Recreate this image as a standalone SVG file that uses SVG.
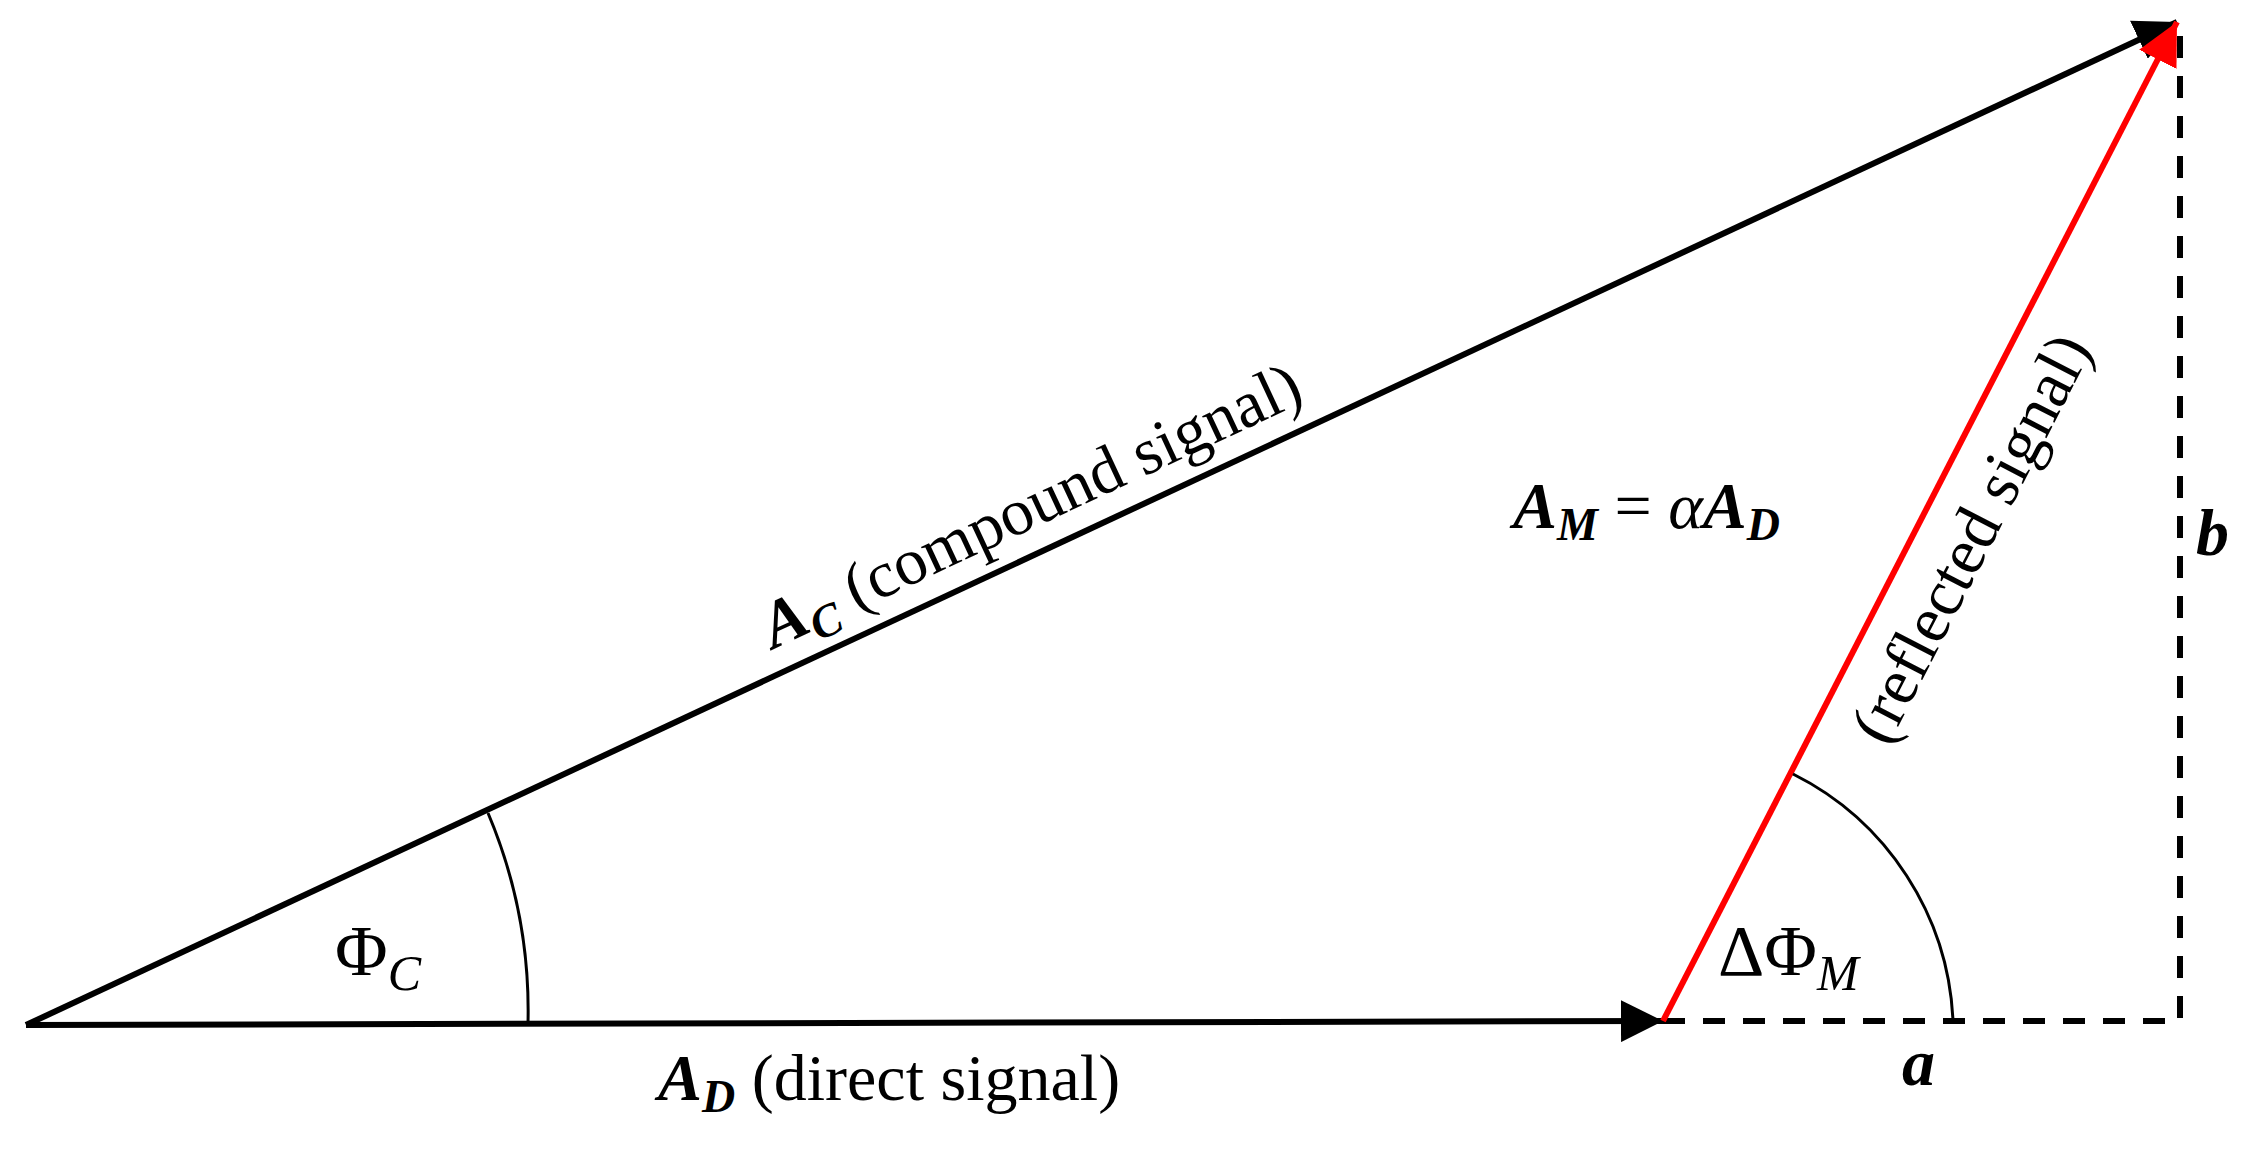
<svg xmlns="http://www.w3.org/2000/svg" width="2248" height="1150" viewBox="0 0 2248 1150">
<style>
text{font-family:"Liberation Serif","DejaVu Serif",serif;fill:#000}
.v{font-weight:bold;font-style:italic}
.i{font-style:italic}
</style>
<defs>
<marker id="ab" viewBox="0 0 10 10" refX="10" refY="5" markerWidth="7" markerHeight="7" markerUnits="strokeWidth" orient="auto"><path d="M0,0L10,5L0,10z" fill="#000"/></marker>
<marker id="ar" viewBox="0 0 10 10" refX="10" refY="5" markerWidth="7" markerHeight="7" markerUnits="strokeWidth" orient="auto"><path d="M0,0L10,5L0,10z" fill="#f00"/></marker>
</defs>
<rect width="2248" height="1150" fill="#fff"/>
<g id="connectors" fill="none">
<path d="M1663,1021H2180V22" stroke="#000" stroke-width="6" stroke-dasharray="22,18"/>
<line x1="26" y1="1025" x2="1663" y2="1021" stroke="#000" stroke-width="6" marker-end="url(#ab)"/>
<line x1="26" y1="1025" x2="2177" y2="22" stroke="#000" stroke-width="6" marker-end="url(#ab)"/>
<line x1="1663" y1="1021" x2="2177" y2="22" stroke="#f00" stroke-width="6" marker-end="url(#ar)"/>
<path d="M488,813A508,508 0 0 1 528,1023" stroke="#000" stroke-width="3"/>
<path d="M1793,774A290,290 0 0 1 1953,1021" stroke="#000" stroke-width="3"/>
</g>
<g id="labels" font-size="66">
<text x="658" y="1100"><tspan class="v">A</tspan><tspan class="v" font-size="46" dy="12">D</tspan><tspan dy="-12"> (direct signal)</tspan></text>
<text transform="translate(1040,525) rotate(-25)" text-anchor="middle"><tspan class="v">A</tspan><tspan class="v" font-size="46" dy="12">C</tspan><tspan dy="-12"> (compound signal)</tspan></text>
<text x="1513" y="528"><tspan class="v">A</tspan><tspan class="v" font-size="46" dy="12">M</tspan><tspan dy="-12"> = </tspan><tspan class="i">α</tspan><tspan class="v">A</tspan><tspan class="v" font-size="46" dy="12">D</tspan></text>
<text transform="translate(1990,548) rotate(-62.8)" text-anchor="middle">(reflected signal)</text>
<text x="2196" y="555" class="v">b</text>
<text x="1902" y="1085" class="v">a</text>
<text x="1718" y="975" font-size="72">ΔΦ<tspan class="i" font-size="50" dy="15">M</tspan></text>
<text x="335" y="975" font-size="72">Φ<tspan class="i" font-size="50" dy="15">C</tspan></text>
</g>
</svg>
